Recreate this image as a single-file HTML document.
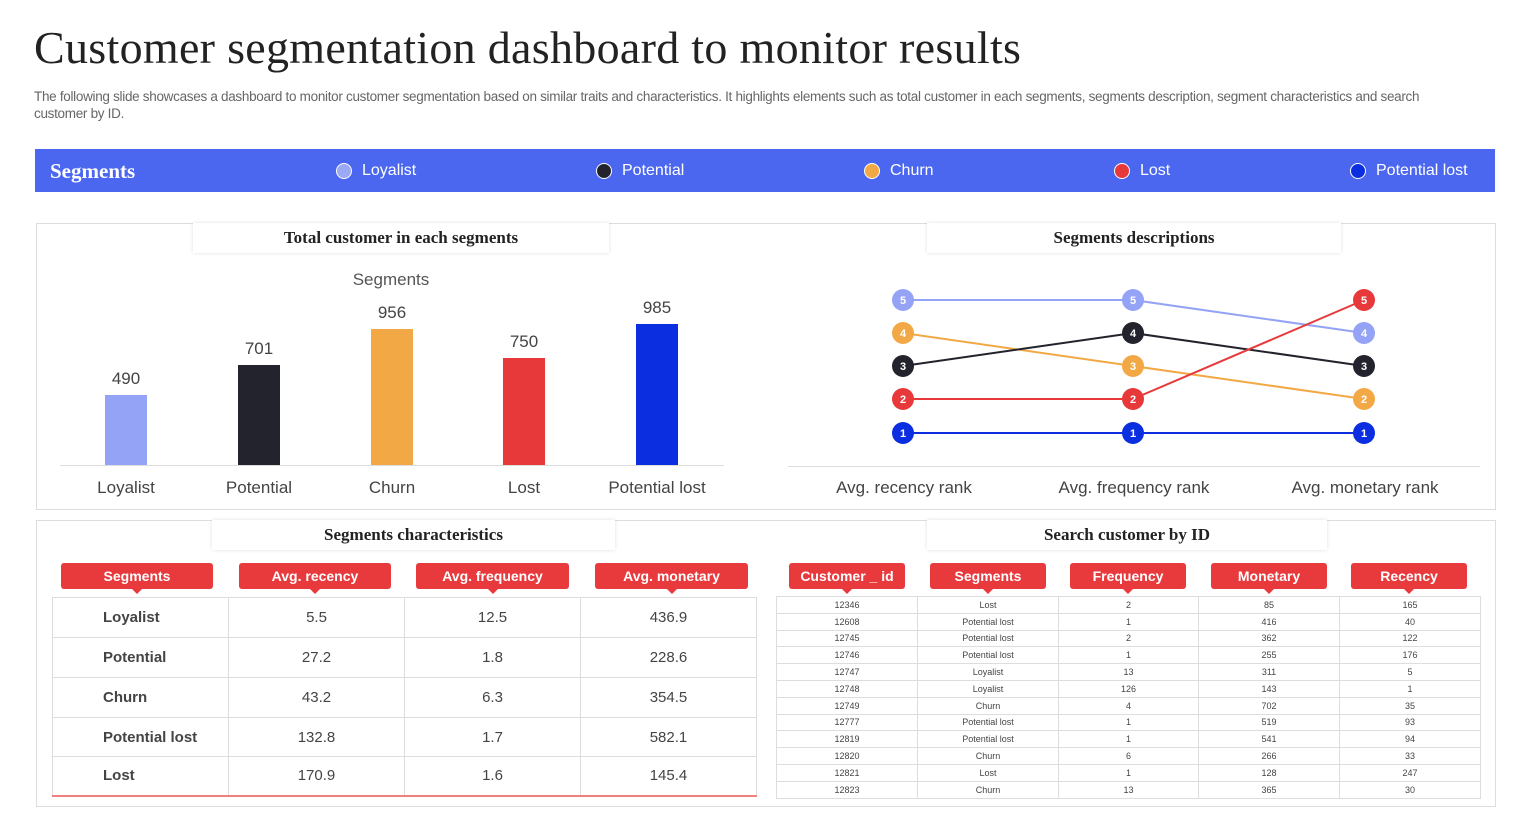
<!DOCTYPE html><html><head><style>
body{margin:0;width:1519px;height:831px;background:#fff;position:relative;font-family:"Liberation Sans",sans-serif;overflow:hidden}
.a{position:absolute}
h1{position:absolute;left:34px;top:21px;margin:0;font:400 46px "Liberation Serif",serif;color:#222;letter-spacing:0.3px}
.sub{left:34px;top:88px;width:1400px;font-size:13.5px;color:#666;line-height:17px;letter-spacing:-0.3px}
.bar{left:35px;top:149px;width:1460px;height:43px;background:#4b67f0}
.leg{top:162px;color:#fff;font-size:16px;display:flex;align-items:center}
.leg i{display:inline-block;width:16px;height:16px;border-radius:50%;border:1.5px solid #fff;margin-right:10px;box-sizing:border-box}
.box{border:1px solid #ddd;background:#fff}
.tab{font:700 17px "Liberation Serif",serif;color:#222;text-align:center;box-shadow:0 0 4px rgba(0,0,0,.12);background:#fff;height:30px;line-height:30px}
.pill{background:#e83a3c;color:#fff;font-weight:700;font-size:14px;text-align:center;height:26px;line-height:26px;border-radius:3px}
.pill:after{content:"";position:absolute;left:50%;margin-left:-5px;top:26px;border:5px solid transparent;border-top-color:#e83a3c}
table{border-collapse:collapse;position:absolute;table-layout:fixed}
td{border:1px solid #ddd;text-align:center;color:#444;padding:0}
</style></head><body>
<h1>Customer segmentation dashboard to monitor results</h1>
<div class="a sub">The following slide showcases a dashboard to monitor customer segmentation based on similar traits and characteristics. It highlights elements such as total customer in each segments, segments description, segment characteristics and search customer by ID.</div>
<div class="a bar"></div>
<div class="a" style="left:50px;top:159px;color:#fff;font:700 21px 'Liberation Serif',serif">Segments</div>
<div class="a leg" style="left:336px"><i style="background:#9aa8f6"></i>Loyalist</div>
<div class="a leg" style="left:596px"><i style="background:#23232d"></i>Potential</div>
<div class="a leg" style="left:864px"><i style="background:#f2a945"></i>Churn</div>
<div class="a leg" style="left:1114px"><i style="background:#e8393a"></i>Lost</div>
<div class="a leg" style="left:1350px"><i style="background:#0a2ee0"></i>Potential lost</div>

<div class="a box" style="left:36px;top:223px;width:1458px;height:285px"></div>
<div class="a box" style="left:36px;top:520px;width:1458px;height:285px"></div>
<div class="a tab" style="left:193px;top:223px;width:416px">Total customer in each segments</div>
<div class="a tab" style="left:927px;top:223px;width:414px">Segments descriptions</div>
<div class="a tab" style="left:212px;top:520px;width:403px">Segments characteristics</div>
<div class="a tab" style="left:927px;top:520px;width:400px">Search customer by ID</div>

<svg class="a" style="left:0;top:0" width="1519" height="831" font-family="Liberation Sans,sans-serif">
<text x="391" y="285" font-size="17" fill="#555" text-anchor="middle">Segments</text>
<line x1="60" y1="465.5" x2="724" y2="465.5" stroke="#ddd"/>
<g font-size="17" fill="#444" text-anchor="middle">
<rect x="105" y="395" width="42" height="70" fill="#95a3f6"/><text x="126" y="384">490</text><text x="126" y="493">Loyalist</text>
<rect x="238" y="365" width="42" height="100" fill="#23232d"/><text x="259" y="354">701</text><text x="259" y="493">Potential</text>
<rect x="371" y="329" width="42" height="136" fill="#f2a945"/><text x="392" y="318">956</text><text x="392" y="493">Churn</text>
<rect x="503" y="358" width="42" height="107" fill="#e8393a"/><text x="524" y="347">750</text><text x="524" y="493">Lost</text>
<rect x="636" y="324" width="42" height="141" fill="#0a2ee0"/><text x="657" y="313">985</text><text x="657" y="493">Potential lost</text>
<text x="904" y="493">Avg. recency rank</text><text x="1134" y="493">Avg. frequency rank</text><text x="1365" y="493">Avg. monetary rank</text>
</g>
<line x1="788" y1="466.5" x2="1480" y2="466.5" stroke="#ddd"/>
<g stroke-width="2" fill="none">
<polyline points="903,300 1133,300 1364,333" stroke="#95a3f6"/>
<polyline points="903,333 1133,366 1364,399" stroke="#f2a945"/>
<polyline points="903,366 1133,333 1364,366" stroke="#23232d"/>
<polyline points="903,399 1133,399 1364,300" stroke="#e8393a"/>
<polyline points="903,433 1133,433 1364,433" stroke="#0a2ee0"/>
</g>
<g font-size="11" fill="#fff" text-anchor="middle" font-weight="bold">
<g fill="#95a3f6"><circle cx="903" cy="300" r="11"/><circle cx="1133" cy="300" r="11"/><circle cx="1364" cy="333" r="11"/></g>
<g fill="#f2a945"><circle cx="903" cy="333" r="11"/><circle cx="1133" cy="366" r="11"/><circle cx="1364" cy="399" r="11"/></g>
<g fill="#23232d"><circle cx="903" cy="366" r="11"/><circle cx="1133" cy="333" r="11"/><circle cx="1364" cy="366" r="11"/></g>
<g fill="#e8393a"><circle cx="903" cy="399" r="11"/><circle cx="1133" cy="399" r="11"/><circle cx="1364" cy="300" r="11"/></g>
<g fill="#0a2ee0"><circle cx="903" cy="433" r="11"/><circle cx="1133" cy="433" r="11"/><circle cx="1364" cy="433" r="11"/></g>
<text x="903" y="304">5</text><text x="1133" y="304">5</text><text x="1364" y="337">4</text>
<text x="903" y="337">4</text><text x="1133" y="370">3</text><text x="1364" y="403">2</text>
<text x="903" y="370">3</text><text x="1133" y="337">4</text><text x="1364" y="370">3</text>
<text x="903" y="403">2</text><text x="1133" y="403">2</text><text x="1364" y="304">5</text>
<text x="903" y="437">1</text><text x="1133" y="437">1</text><text x="1364" y="437">1</text>
</g>
</svg>

<div class="a pill" style="left:61px;top:563px;width:152px">Segments</div>
<div class="a pill" style="left:239px;top:563px;width:152px">Avg. recency</div>
<div class="a pill" style="left:416px;top:563px;width:153px">Avg. frequency</div>
<div class="a pill" style="left:595px;top:563px;width:153px">Avg. monetary</div>
<table style="left:52px;top:597px;width:704px;font-size:15px;border-bottom:2px solid #f08080">
<colgroup><col style="width:176px"><col style="width:176px"><col style="width:176px"><col style="width:176px"></colgroup>
<tr style="height:40px"><td style="text-align:left;padding-left:50px;font-weight:bold">Loyalist</td><td>5.5</td><td>12.5</td><td>436.9</td></tr>
<tr style="height:40px"><td style="text-align:left;padding-left:50px;font-weight:bold">Potential</td><td>27.2</td><td>1.8</td><td>228.6</td></tr>
<tr style="height:40px"><td style="text-align:left;padding-left:50px;font-weight:bold">Churn</td><td>43.2</td><td>6.3</td><td>354.5</td></tr>
<tr style="height:39px"><td style="text-align:left;padding-left:50px;font-weight:bold">Potential lost</td><td>132.8</td><td>1.7</td><td>582.1</td></tr>
<tr style="height:39px"><td style="text-align:left;padding-left:50px;font-weight:bold">Lost</td><td>170.9</td><td>1.6</td><td>145.4</td></tr>
</table>

<div class="a pill" style="left:789px;top:563px;width:116px">Customer _ id</div>
<div class="a pill" style="left:930px;top:563px;width:116px">Segments</div>
<div class="a pill" style="left:1070px;top:563px;width:116px">Frequency</div>
<div class="a pill" style="left:1211px;top:563px;width:116px">Monetary</div>
<div class="a pill" style="left:1351px;top:563px;width:116px">Recency</div>
<table style="left:776px;top:596px;width:704px;font-size:9px">
<colgroup><col style="width:141px"><col style="width:141px"><col style="width:140px"><col style="width:141px"><col style="width:141px"></colgroup>
<tr style="height:16.8px"><td>12346</td><td>Lost</td><td>2</td><td>85</td><td>165</td></tr>
<tr style="height:16.8px"><td>12608</td><td>Potential lost</td><td>1</td><td>416</td><td>40</td></tr>
<tr style="height:16.8px"><td>12745</td><td>Potential lost</td><td>2</td><td>362</td><td>122</td></tr>
<tr style="height:16.8px"><td>12746</td><td>Potential lost</td><td>1</td><td>255</td><td>176</td></tr>
<tr style="height:16.8px"><td>12747</td><td>Loyalist</td><td>13</td><td>311</td><td>5</td></tr>
<tr style="height:16.8px"><td>12748</td><td>Loyalist</td><td>126</td><td>143</td><td>1</td></tr>
<tr style="height:16.8px"><td>12749</td><td>Churn</td><td>4</td><td>702</td><td>35</td></tr>
<tr style="height:16.8px"><td>12777</td><td>Potential lost</td><td>1</td><td>519</td><td>93</td></tr>
<tr style="height:16.8px"><td>12819</td><td>Potential lost</td><td>1</td><td>541</td><td>94</td></tr>
<tr style="height:16.8px"><td>12820</td><td>Churn</td><td>6</td><td>266</td><td>33</td></tr>
<tr style="height:16.8px"><td>12821</td><td>Lost</td><td>1</td><td>128</td><td>247</td></tr>
<tr style="height:16.8px"><td>12823</td><td>Churn</td><td>13</td><td>365</td><td>30</td></tr>
</table>
</body></html>
